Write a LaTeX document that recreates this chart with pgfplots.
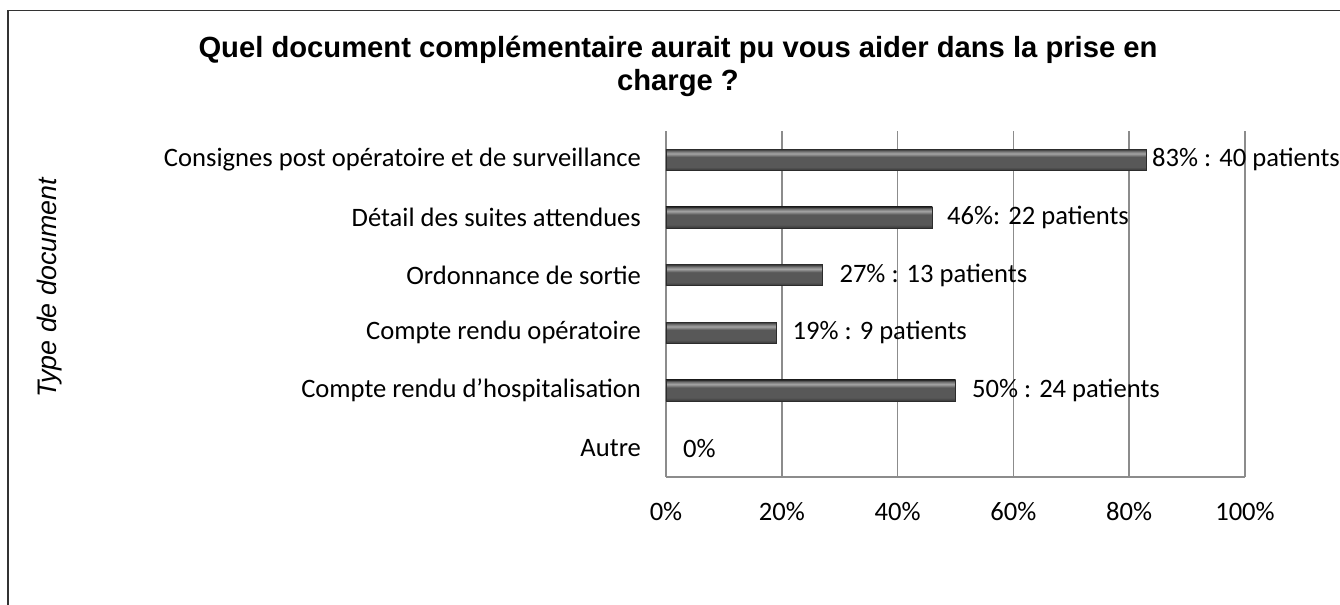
\documentclass[border=0pt]{standalone}
\usepackage{fontspec}
\setmainfont{Carlito}
\newfontfamily\arial{Liberation Sans}
\usepackage{pgfplots}
\pgfplotsset{compat=1.18}
\definecolor{gridgray}{RGB}{140,140,140}
\definecolor{bartop}{RGB}{165,165,165}
\definecolor{barmid}{RGB}{88,88,88}
\definecolor{barbot}{RGB}{55,55,55}
\pgfdeclareverticalshading{barshade}{100bp}{color(0bp)=(barbot); color(25bp)=(barbot); color(33bp)=(barmid); color(57bp)=(barmid); color(65bp)=(bartop); color(70bp)=(barmid!60!bartop); color(75bp)=(barbot); color(100bp)=(barbot)}
\begin{document}
\begin{tikzpicture}
\useasboundingbox (0,0) rectangle (670pt,302.5pt);
\draw[line width=0.8pt, black!80] (4pt,0) -- (4pt,297.25pt) -- (670pt,297.25pt);
\node[font=\arial\bfseries\fontsize{14.6}{16.5}\selectfont, align=center] at (339pt,269.5pt)
  {Quel document complémentaire aurait pu vous aider dans la prise en\\charge ?};
\node[font=\arial\itshape\fontsize{13.4}{16}\selectfont, rotate=90] at (25pt,158.5pt) {Type de document};
\begin{axis}[
  at={(333pt,64pt)}, anchor=south west,
  scale only axis, width=289.5pt, height=173pt,
  xmin=0, xmax=100, ymin=-0.5, ymax=5.5,
  axis x line*=bottom, axis y line*=left,
  axis line style={gridgray, line width=0.75pt, -},
  xmajorgrids, grid style={gridgray, line width=0.75pt},
  major tick length=0pt,
  xtick={0,20,40,60,80,100},
  xticklabels={0\%,20\%,40\%,60\%,80\%,100\%},
  ytick={0,1,2,3,4,5},
  yticklabels={Autre, Compte rendu d’hospitalisation, Compte rendu opératoire, Ordonnance de sortie, Détail des suites attendues, Consignes post opératoire et de surveillance},
  tick label style={font=\fontsize{13.3}{15}\selectfont, text=black},
  xticklabel style={yshift=-9pt},
  yticklabel style={xshift=-9pt},
  mybar/.style={xbar, bar shift=0pt, bar width=10.5pt, draw=barbot!80!black, line width=0.4pt, shading=barshade},
]
\addplot[mybar] coordinates {(83,5)};
\addplot[mybar] coordinates {(46,4)};
\addplot[mybar] coordinates {(27,3)};
\addplot[mybar] coordinates {(19,2)};
\addplot[mybar] coordinates {(50,1)};
\addplot[mybar, draw=none] coordinates {(0,0)};
\addplot[draw=none, mark=none, point meta=explicit symbolic, nodes near coords,
  every node near coord/.append style={anchor=west, inner sep=0pt, text=black, font=\fontsize{13.3}{15}\selectfont}]
  coordinates {(83.9,5) [83\% : 40 patients] (48.5,4) [46\%: 22 patients] (29.9,3) [27\% : 13 patients]
               (21.8,2) [19\% : 9 patients] (52.8,1) [50\% : 24 patients] (2.9,0) [0\%]};
\end{axis}
\end{tikzpicture}
\end{document}
